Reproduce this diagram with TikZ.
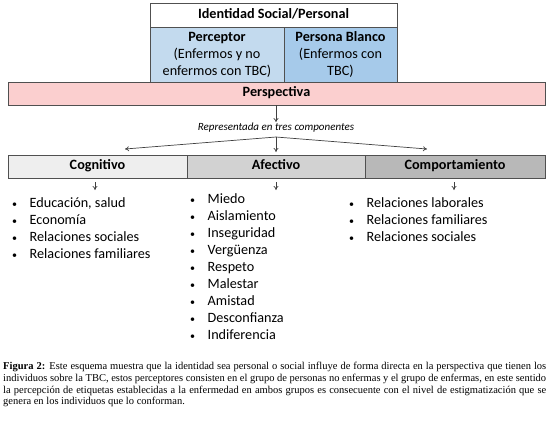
\documentclass[tikz,border=0pt]{standalone}
\usepackage{fontspec}
\setmainfont{Carlito}
\newfontfamily\capfont{Liberation Serif}
\usetikzlibrary{arrows.meta}
\definecolor{bordercol}{HTML}{505050}
\definecolor{blueA}{HTML}{C3DAEE}
\definecolor{blueB}{HTML}{A6CAEA}
\definecolor{pinkP}{HTML}{FBCFCF}
\definecolor{greyA}{HTML}{EEEEEE}
\definecolor{greyB}{HTML}{D2D2D2}
\definecolor{greyC}{HTML}{B8B8B8}
\definecolor{linecol}{HTML}{404040}
\tikzset{
  cell/.style={draw=bordercol, line width=0.8bp, inner sep=0pt, align=center, anchor=center},
  hdr/.style={font=\fontsize{14.2bp}{16bp}\selectfont\bfseries, text height=10bp, text depth=3.2bp},
  conn/.style={draw=linecol, line width=0.7bp, -{To[length=4bp,width=5bp]}},
  listnode/.style={anchor=north west, inner sep=0pt, font=\fontsize{14.2bp}{17bp}\selectfont, align=left},
}
\newcommand{\bul}{{\fontsize{10bp}{10bp}\selectfont\textbullet}}
\newcommand{\blist}[1]{\begin{tabular}{@{}c@{\hspace{12.5bp}}l@{}}#1\end{tabular}}
\begin{document}
\begin{tikzpicture}[x=1bp,y=-1bp]
\useasboundingbox (0,0) rectangle (550,420);
% top table
\node[cell, hdr, fill=white, minimum width=247bp, minimum height=24bp] (ident) at (273.5,15) {Identidad Social/Personal};
\node[cell, fill=blueA, minimum width=134bp, minimum height=55bp, font=\fontsize{14.2bp}{17bp}\selectfont] (perc) at (217,54.5) {\textbf{Perceptor}\\(Enfermos y no\\enfermos con TBC)};
\node[cell, fill=blueB, minimum width=113bp, minimum height=55bp, font=\fontsize{14.2bp}{17bp}\selectfont] (pblanco) at (340.5,54.5) {\textbf{Persona Blanco}\\(Enfermos con\\TBC)};
% perspectiva
\node[cell, hdr, fill=pinkP, minimum width=537bp, minimum height=23bp] (persp) at (276.5,93.5) {Perspectiva};
% label
\node[inner sep=1bp, font=\fontsize{11bp}{12bp}\selectfont\itshape] (rep) at (276,128) {Representada en tres componentes};
\coordinate (split) at (276,137);
\coordinate (tipL) at (125,149);
\coordinate (tipM) at (276,152);
\coordinate (tipR) at (427,149);
% components
\node[cell, hdr, fill=greyA, minimum width=179bp, minimum height=23bp] (cog) at (97.5,166.5) {Cognitivo};
\node[cell, hdr, fill=greyB, minimum width=178bp, minimum height=23bp] (afe) at (276,166.5) {Afectivo};
\node[cell, hdr, fill=greyC, minimum width=180bp, minimum height=23bp] (comp) at (455,166.5) {Comportamiento};
% connectors
\draw[conn] (persp.south -| split) -- (rep.north);
\draw[conn] (split) -- (tipL);
\draw[conn] (split) -- (tipM);
\draw[conn] (split) -- (tipR);
\coordinate (aCog) at (95,190);
\coordinate (aAfe) at (276,190);
\coordinate (aComp) at (454,190);
\draw[conn] (cog.south -| aCog) ++(0,4) -- (aCog);
\draw[conn] (afe.south -| aAfe) ++(0,4) -- (aAfe);
\draw[conn] (comp.south -| aComp) ++(0,4) -- (aComp);
% lists
\node[listnode] (lcog) at (12,195) {\blist{\bul & Educación, salud\\ \bul & Economía\\ \bul & Relaciones sociales\\ \bul & Relaciones familiares}};
\node[listnode] (lafe) at (190,191) {\blist{\bul & Miedo\\ \bul & Aislamiento\\ \bul & Inseguridad\\ \bul & Vergüenza\\ \bul & Respeto\\ \bul & Malestar\\ \bul & Amistad\\ \bul & Desconfianza\\ \bul & Indiferencia}};
\node[listnode] (lcomp) at (349,195) {\blist{\bul & Relaciones laborales\\ \bul & Relaciones familiares\\ \bul & Relaciones sociales}};
% caption
\node[anchor=north west, inner sep=0pt, text width=543bp, align=justify, font=\capfont\fontsize{10.5bp}{11.7bp}\selectfont] (cap) at (3,362) {\textbf{Figura 2:} Este esquema muestra que la identidad sea personal o social influye de forma directa en la perspectiva que tienen los\linebreak individuos sobre la TBC, estos perceptores consisten en el grupo de personas no enfermas y el grupo de enfermas, en este sentido\linebreak la percepción de etiquetas establecidas a la enfermedad en ambos grupos es consecuente con el nivel de estigmatización que se\linebreak genera en los individuos que lo conforman.};
\end{tikzpicture}
\end{document}
